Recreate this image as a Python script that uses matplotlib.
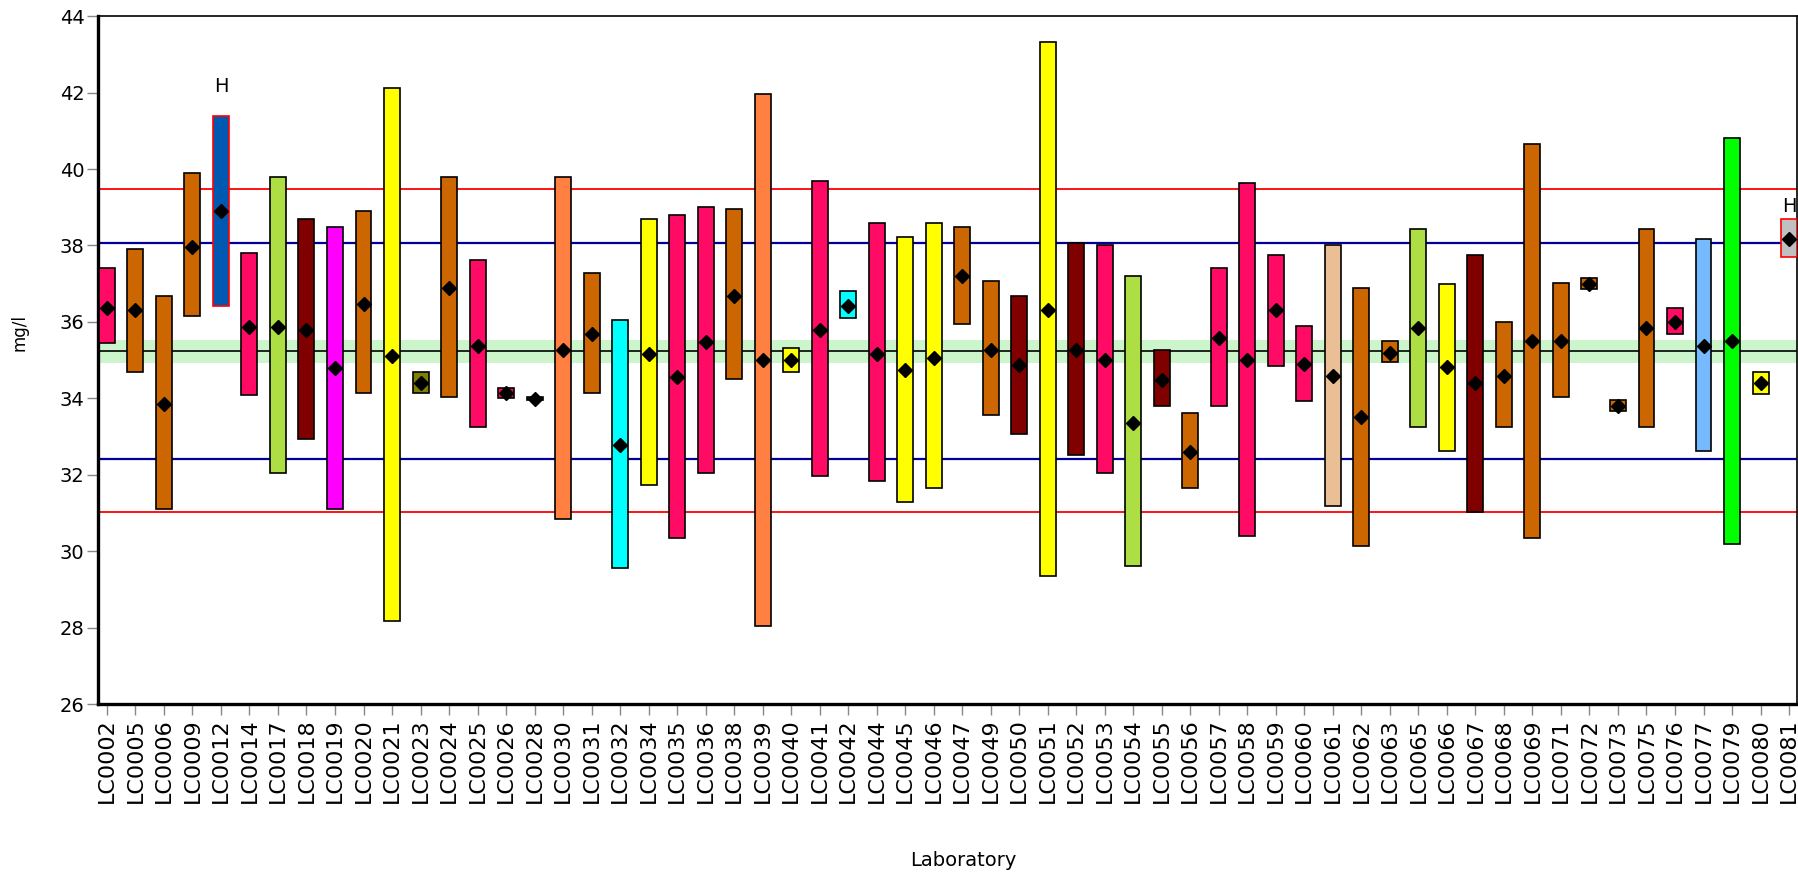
import matplotlib
matplotlib.use("Agg")
from matplotlib import pyplot as plt

# laboratory results: lower / upper limit of the reported interval and the mean
labs = ["LC0002", "LC0005", "LC0006", "LC0009", "LC0012", "LC0014", "LC0017", "LC0018",
        "LC0019", "LC0020", "LC0021", "LC0023", "LC0024", "LC0025", "LC0026", "LC0028",
        "LC0030", "LC0031", "LC0032", "LC0034", "LC0035", "LC0036", "LC0038", "LC0039",
        "LC0040", "LC0041", "LC0042", "LC0044", "LC0045", "LC0046", "LC0047", "LC0049",
        "LC0050", "LC0051", "LC0052", "LC0053", "LC0054", "LC0055", "LC0056", "LC0057",
        "LC0058", "LC0059", "LC0060", "LC0061", "LC0062", "LC0063", "LC0065", "LC0066",
        "LC0067", "LC0068", "LC0069", "LC0071", "LC0072", "LC0073", "LC0075", "LC0076",
        "LC0077", "LC0079", "LC0080", "LC0081"]

lower = [35.45, 34.70, 31.12, 36.16, 36.42, 34.08, 32.06, 32.94,
         31.12, 34.14, 28.17, 34.14, 34.03, 33.25, 34.02, 33.96,
         30.86, 34.14, 29.56, 31.74, 30.34, 32.05, 34.50, 28.06,
         34.70, 31.96, 36.10, 31.85, 31.28, 31.65, 35.95, 33.56,
         33.08, 29.35, 32.52, 32.05, 29.62, 33.81, 31.65, 33.81,
         30.39, 34.86, 33.93, 31.18, 30.13, 34.96, 33.25, 32.62,
         31.02, 33.25, 30.34, 34.03, 36.87, 33.66, 33.25, 35.69,
         32.62, 30.19, 34.12, 37.70]

upper = [37.40, 37.92, 36.68, 39.89, 41.39, 37.81, 39.78, 38.69,
         38.49, 38.90, 42.11, 34.70, 39.78, 37.61, 34.27, 34.03,
         39.78, 37.29, 36.05, 38.69, 38.80, 39.01, 38.96, 41.96,
         35.33, 39.68, 36.82, 38.60, 38.22, 38.60, 38.49, 37.08,
         36.68, 43.31, 38.07, 38.02, 37.19, 35.27, 33.62, 37.40,
         39.63, 37.75, 35.90, 38.01, 36.88, 35.49, 38.43, 36.99,
         37.75, 36.00, 40.65, 37.03, 37.14, 33.97, 38.43, 36.36,
         38.17, 40.82, 34.70, 38.69]

means = [36.36, 36.32, 33.86, 37.96, 38.90, 35.88, 35.88, 35.79,
         34.79, 36.46, 35.11, 34.40, 36.88, 35.38, 34.14, 33.99,
         35.27, 35.69, 32.79, 35.17, 34.55, 35.47, 36.68, 35.01,
         35.01, 35.79, 36.42, 35.17, 34.75, 35.05, 37.19, 35.27,
         34.87, 36.32, 35.27, 35.01, 33.35, 34.49, 32.59, 35.57,
         35.01, 36.32, 34.90, 34.59, 33.51, 35.20, 35.84, 34.81,
         34.40, 34.59, 35.49, 35.49, 37.00, 33.79, 35.84, 36.01,
         35.38, 35.49, 34.40, 38.16]

methods = ["A", "B", "B", "B", "C", "A", "D", "E",
           "F", "B", "G", "H", "B", "A", "A", "E",
           "I", "B", "J", "G", "A", "A", "B", "I",
           "G", "A", "J", "A", "G", "G", "B", "B",
           "E", "G", "E", "A", "D", "E", "B", "A",
           "A", "A", "A", "K", "B", "B", "D", "G",
           "E", "B", "B", "B", "B", "B", "B", "A",
           "L", "M", "G", "N"]

# flagged labs and where the flag letter sits
flagged = {"LC0012": ("H", 42.17), "LC0081": ("H", 39.03)}

assigned = 35.24
band = (34.93, 35.53)
warn_limits = (32.42, 38.07)
action_limits = (31.02, 39.47)

method_colours = {"A": "#FF0A64", "B": "#CC6600", "C": "#0058B0", "D": "#ADDF45",
                  "E": "#800000", "F": "#FF00FF", "G": "#FFFF00", "H": "#808000",
                  "I": "#FF8040", "J": "#00FFFF", "K": "#EABF95", "L": "#75BAFF",
                  "M": "#00FF00", "N": "#C0C0C0"}


def main():
    plt.rcParams["font.family"] = ["DejaVu Sans"]
    fig = plt.figure(figsize=(17.98, 8.73), dpi=100)
    ax = fig.add_axes([0.0547, 0.1932, 0.9446, 0.7884])

    x = list(range(len(labs)))
    heights = [u - l for u, l in zip(upper, lower)]
    colours = [method_colours[m] for m in methods]
    edges = ["#FF0000" if lab in flagged else "black" for lab in labs]

    # reference lines behind the bars
    ax.axhspan(band[0], band[1], color="#CCF5CC", zorder=1, lw=0)
    ax.axhline(assigned, color="black", lw=1.2, zorder=2)
    for v in warn_limits:
        ax.axhline(v, color="#000099", lw=1.6, zorder=2)
    for v in action_limits:
        ax.axhline(v, color="#FF0000", lw=1.3, zorder=2)

    ax.bar(x, heights, bottom=lower, width=0.56, color=colours,
           edgecolor=edges, linewidth=1.2, zorder=3)
    ax.plot(x, means, "D", color="black", ms=7.5, ls="none", zorder=4)

    for lab, (txt, ypos) in flagged.items():
        ax.text(labs.index(lab), ypos, txt, ha="center", va="center", fontsize=14, zorder=5)

    ax.set_xlim(-0.3, 59.27)
    ax.set_ylim(26, 44)
    ax.set_yticks(range(26, 45, 2))
    ax.set_xticks(x)
    ax.set_xticklabels(labs, rotation=90)
    ax.tick_params(axis="y", length=8, width=1, color="#888888", labelsize=14, pad=2)
    ax.tick_params(axis="x", length=8, width=1, color="#888888", labelsize=16, pad=2)

    for side in ("left", "bottom"):
        ax.spines[side].set_linewidth(2.4)
    for side in ("top", "right"):
        ax.spines[side].set_linewidth(1.2)

    ax.set_ylabel("mg/l", fontsize=12)
    ax.yaxis.set_label_coords(-0.041, 0.54)
    ax.set_xlabel("Laboratory", fontsize=14)
    ax.xaxis.set_label_coords(0.509, -0.213)

    fig.savefig("out.png", dpi=100)


if __name__ == "__main__":
    main()
